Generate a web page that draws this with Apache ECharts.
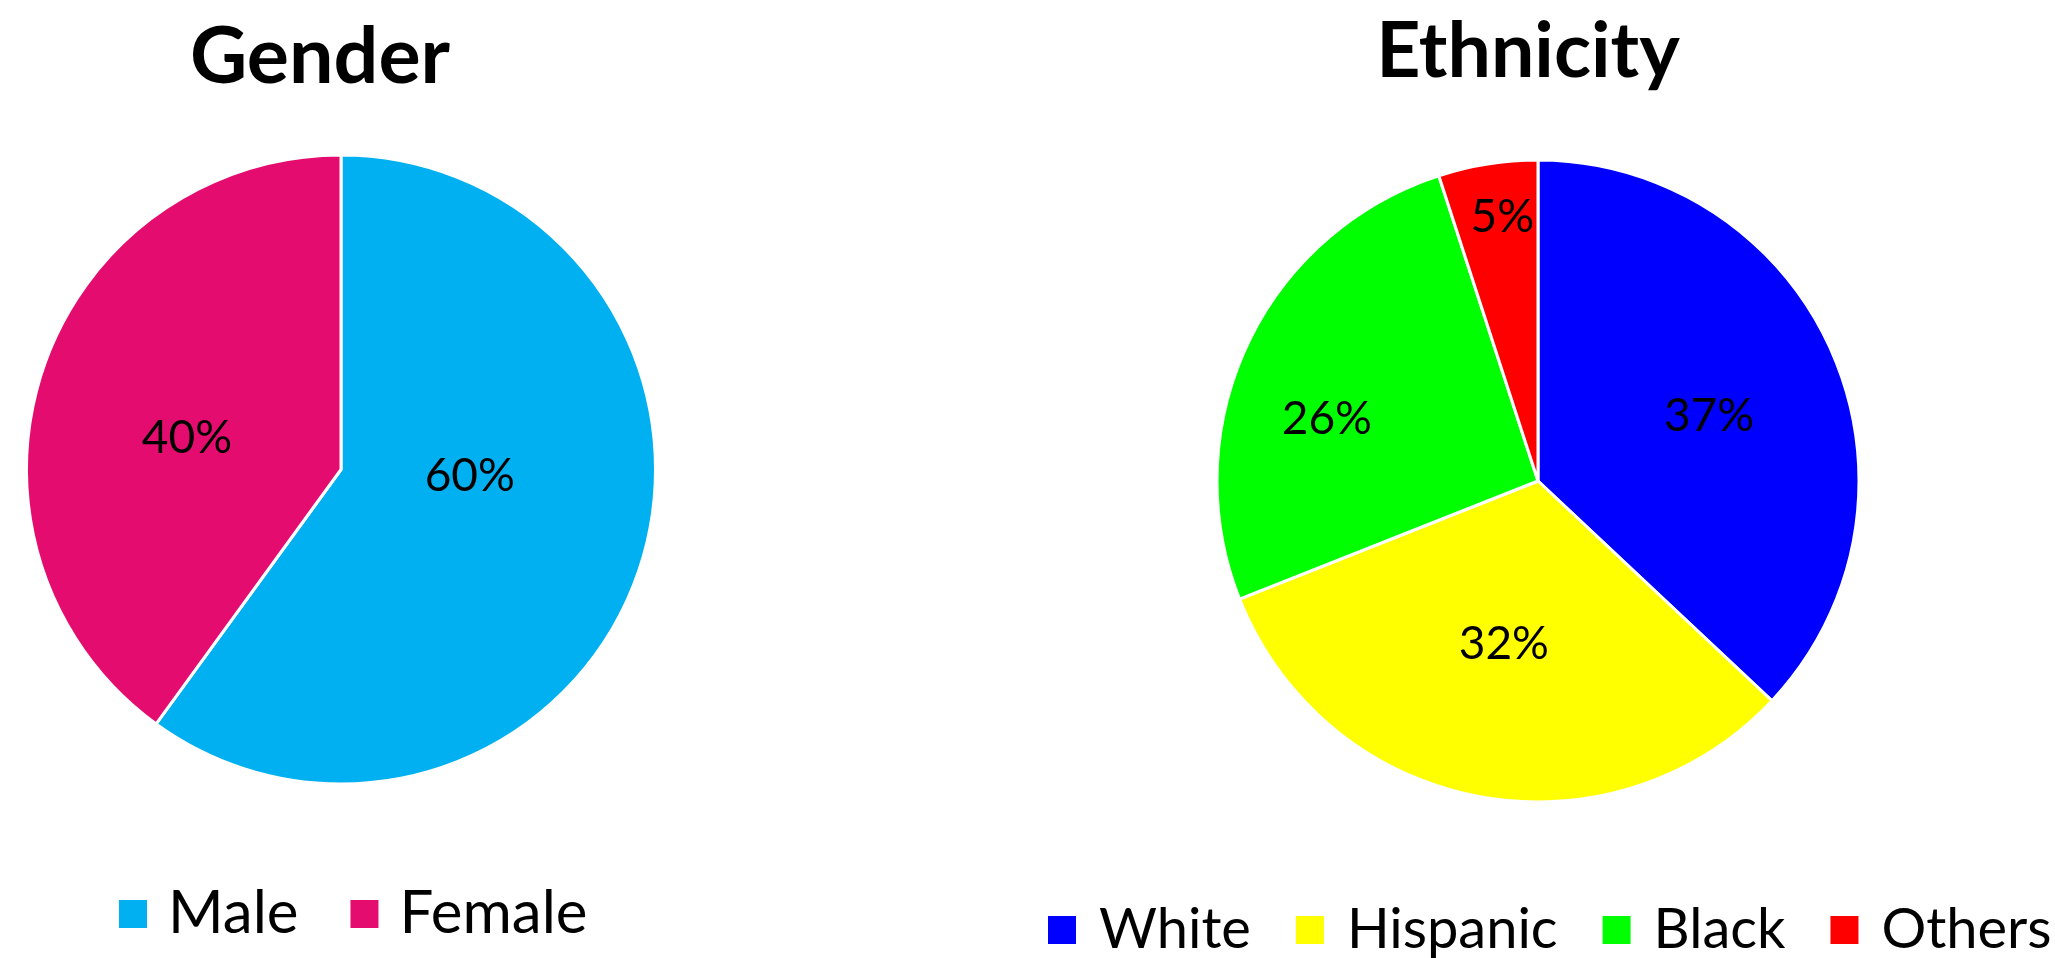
<!DOCTYPE html>
<html>
<head>
<meta charset="utf-8">
<script src="https://cdn.jsdelivr.net/npm/echarts@6/dist/echarts.min.js"></script>
<style>
html,body{margin:0;padding:0;background:#fff;}
#c{width:2055px;height:958px;}
</style>
</head>
<body>
<div id="c"></div>
<script>
// ---- data ----
const genderCategories = ['Male', 'Female'];
const genderValues = [60, 40];
const ethnicityCategories = ['White', 'Hispanic', 'Black', 'Others'];
const ethnicityValues = [37, 32, 26, 5];
const titles = ['Gender', 'Ethnicity'];

// ---- styles ----
const genderColors = ['#00B0F0', '#E40C6E'];
const ethnicityColors = ['#0000FF', '#FFFF00', '#00FF00', '#FF0000'];
const pieGeom = [
  { cx: 341, cy: 469.5, r: 314.5 },
  { cx: 1538, cy: 481, r: 321 }
];
// label placement style: [radius fraction, angular shift in degrees]
const labelPlace = [
  [[0.41, -15], [0.50, -6.5]],
  [[0.57, 2.6], [0.52, 1], [0.685, -9], [0.83, 1.3]]
];
const seriesValues = [genderValues, ethnicityValues];

function makeData(cats, vals, cols) {
  return cats.map((c, i) => ({ name: c, value: vals[i], itemStyle: { color: cols[i] } }));
}

const chart = echarts.init(document.getElementById('c'), null, { renderer: 'canvas' });

function labelLayout(params) {
  const s = params.seriesIndex, i = params.dataIndex;
  const vals = seriesValues[s];
  const total = vals.reduce((a, b) => a + b, 0);
  let cum = 0;
  for (let k = 0; k < i; k++) cum += vals[k];
  const p = labelPlace[s][i];
  const ang = ((cum + vals[i] / 2) / total * 360 + p[1]) * Math.PI / 180;
  const g = pieGeom[s];
  return { x: g.cx + p[0] * g.r * Math.sin(ang), y: g.cy - p[0] * g.r * Math.cos(ang) };
}

const labelStyle = {
  show: true,
  position: 'inside',
  formatter: '{c}%',
  fontFamily: 'Lato',
  fontSize: 46,
  color: '#000'
};

chart.setOption({
  animation: false,
  backgroundColor: '#fff',
  title: [
    { text: titles[0], left: 315, top: 13, textAlign: 'center',
      textStyle: { fontFamily: 'Lato', fontWeight: 'bold', fontSize: 79, color: '#000' } },
    { text: titles[1], left: 1523, top: 9, textAlign: 'center',
      textStyle: { fontFamily: 'Lato', fontWeight: 'bold', fontSize: 77, color: '#000' } }
  ],
  legend: [
    { data: genderCategories, left: 117, top: 884, padding: 0, itemGap: 50,
      itemWidth: 30, itemHeight: 30, icon: 'rect', selectedMode: false,
      textStyle: { fontFamily: 'Lato', fontSize: 60, color: '#000', padding: [0, 0, 0, 15] } },
    { data: ethnicityCategories, left: 1046, top: 902, padding: 0, itemGap: 43, width: 1009,
      itemWidth: 30, itemHeight: 30, icon: 'rect', selectedMode: false,
      textStyle: { fontFamily: 'Lato', fontSize: 56, color: '#000', padding: [0, 0, 0, 17] } }
  ],
  series: [
    {
      type: 'pie', center: [pieGeom[0].cx, pieGeom[0].cy], radius: pieGeom[0].r,
      startAngle: 90, clockwise: true, silent: true,
      itemStyle: { borderColor: '#fff', borderWidth: 3 },
      label: labelStyle, labelLine: { show: false }, labelLayout: labelLayout,
      data: makeData(genderCategories, genderValues, genderColors)
    },
    {
      type: 'pie', center: [pieGeom[1].cx, pieGeom[1].cy], radius: pieGeom[1].r,
      startAngle: 90, clockwise: true, silent: true,
      itemStyle: { borderColor: '#fff', borderWidth: 3 },
      label: labelStyle, labelLine: { show: false }, labelLayout: labelLayout,
      data: makeData(ethnicityCategories, ethnicityValues, ethnicityColors)
    }
  ]
});
</script>
</body>
</html>
